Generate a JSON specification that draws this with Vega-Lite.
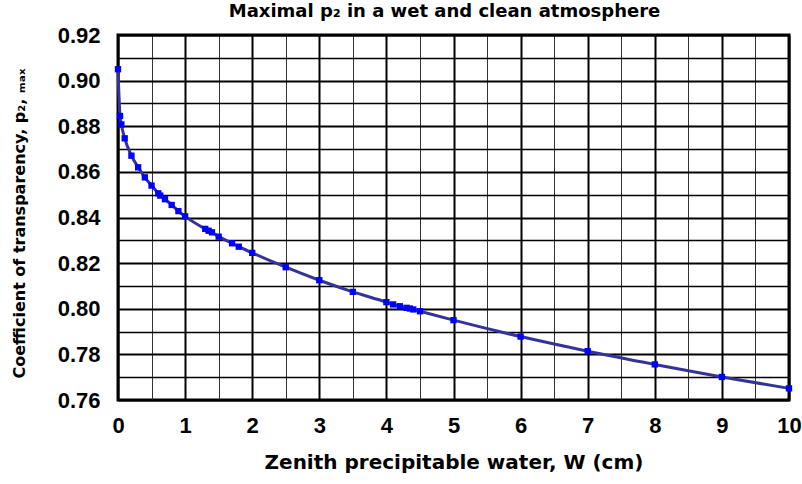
{
  "$schema": "https://vega.github.io/schema/vega-lite/v6.json",
  "width": 671,
  "height": 365,
  "autosize": {"type": "none"},
  "padding": {"left": 118, "top": 35, "right": 13, "bottom": 84},
  "background": "white",
  "title": {
    "text": "Maximal p₂ in a wet and clean atmosphere",
    "font": "DejaVu Sans",
    "fontSize": 18,
    "fontWeight": "bold",
    "color": "#000",
    "anchor": "middle",
    "offset": 3,
    "dx": -9
  },
  "data": {
    "values": [
      {"W": 0, "p": 0.905},
      {"W": 0.03, "p": 0.8845},
      {"W": 0.05, "p": 0.8808},
      {"W": 0.1, "p": 0.8747},
      {"W": 0.2, "p": 0.8671},
      {"W": 0.3, "p": 0.862},
      {"W": 0.4, "p": 0.8576},
      {"W": 0.5, "p": 0.854},
      {"W": 0.6, "p": 0.8506},
      {"W": 0.63, "p": 0.8496},
      {"W": 0.7, "p": 0.848},
      {"W": 0.8, "p": 0.8455},
      {"W": 0.9, "p": 0.8428},
      {"W": 1.0, "p": 0.8405},
      {"W": 1.3, "p": 0.835},
      {"W": 1.35, "p": 0.8342},
      {"W": 1.4, "p": 0.8335},
      {"W": 1.5, "p": 0.8316},
      {"W": 1.7, "p": 0.8287},
      {"W": 1.8, "p": 0.8272},
      {"W": 2.0, "p": 0.8245},
      {"W": 2.5, "p": 0.8182},
      {"W": 3.0, "p": 0.8125},
      {"W": 3.5, "p": 0.8074},
      {"W": 4.0, "p": 0.8029},
      {"W": 4.1, "p": 0.8019},
      {"W": 4.2, "p": 0.8011},
      {"W": 4.3, "p": 0.8004},
      {"W": 4.35, "p": 0.8001},
      {"W": 4.4, "p": 0.7997},
      {"W": 4.5, "p": 0.7989},
      {"W": 5, "p": 0.795},
      {"W": 6, "p": 0.7878},
      {"W": 7, "p": 0.7814},
      {"W": 8, "p": 0.7756},
      {"W": 9, "p": 0.7701},
      {"W": 10, "p": 0.7651}
    ]
  },
  "encoding": {
    "x": {
      "field": "W",
      "type": "quantitative",
      "scale": {"domain": [0, 10], "nice": false, "zero": false},
      "axis": {
        "title": "Zenith precipitable water, W (cm)",
        "values": [0,0.5,1,1.5,2,2.5,3,3.5,4,4.5,5,5.5,6,6.5,7,7.5,8,8.5,9,9.5,10],
        "labelExpr": "datum.value % 1 === 0 ? format(datum.value, 'd') : ''",
        "grid": true,
        "gridColor": {"condition": {"test": "datum.value % 1 === 0", "value": "#000"}, "value": "#333"},
        "gridWidth": {"condition": {"test": "datum.value % 1 === 0", "value": 2}, "value": 1},
        "gridOpacity": 1,
        "ticks": false,
        "domain": false,
        "labelPadding": 15,
        "labelFont": "Liberation Sans",
        "labelFontSize": 22,
        "labelFontWeight": "bold",
        "labelColor": "#000",
        "labelFlush": false,
        "titleFont": "DejaVu Sans",
        "titleFontSize": 20,
        "titleFontWeight": "bold",
        "titleColor": "#000",
        "titlePadding": 16
      }
    },
    "y": {
      "field": "p",
      "type": "quantitative",
      "scale": {"domain": [0.76, 0.92], "nice": false, "zero": false},
      "axis": {
        "title": "Coefficient of transparency, p₂, ₘₐₓ",
        "values": [0.76,0.77,0.78,0.79,0.80,0.81,0.82,0.83,0.84,0.85,0.86,0.87,0.88,0.89,0.90,0.91,0.92],
        "labelExpr": "round(datum.value*100) % 2 === 0 ? format(datum.value, '.2f') : ''",
        "grid": true,
        "gridColor": "#000",
        "gridWidth": {"condition": {"test": "round(datum.value*100) % 2 === 0", "value": 2}, "value": 1.3},
        "gridOpacity": 1,
        "ticks": false,
        "domain": false,
        "labelPadding": 18,
        "labelFont": "Liberation Sans",
        "labelFontSize": 22,
        "labelFontWeight": "bold",
        "labelColor": "#000",
        "labelFlush": false,
        "titleFont": "DejaVu Sans",
        "titleFontSize": 16,
        "titleFontWeight": "bold",
        "titleColor": "#000",
        "titlePadding": 30,
        "titleY": 188
      }
    }
  },
  "layer": [
    {
      "mark": {"type": "line", "color": "#333399", "strokeWidth": 3, "interpolate": "monotone"}
    },
    {
      "mark": {"type": "square", "color": "#0000FF", "filled": true, "opacity": 1, "size": 40}
    }
  ],
  "config": {
    "view": {"stroke": "#000", "strokeWidth": 3}
  }
}
